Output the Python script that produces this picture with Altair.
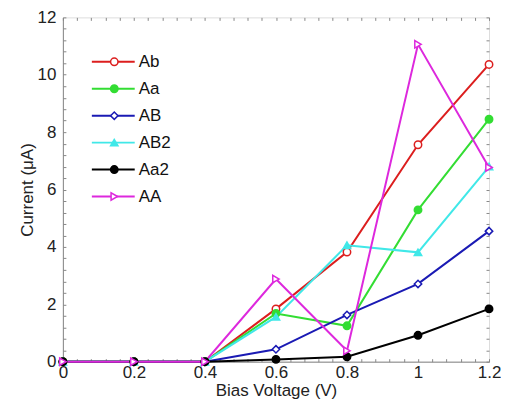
import altair as alt
import pandas as pd

voltage = [0, 0.2, 0.4, 0.6, 0.8, 1.0, 1.2]
series_names = ["Ab", "Aa", "AB", "AB2", "Aa2", "AA"]
ab_vals = [0, 0, 0, 1.84, 3.82, 7.56, 10.36]
aa_vals = [0, 0, 0, 1.68, 1.25, 5.29, 8.45]
AB_vals = [0, 0, 0, 0.43, 1.63, 2.71, 4.55]
ab2_vals = [0, 0, 0, 1.56, 4.06, 3.81, 6.80]
aa2_vals = [0, 0, 0, 0.08, 0.17, 0.92, 1.84]
AA_vals = [0, 0, 0, 2.88, 0.38, 11.06, 6.77]

x_major = [0, 0.2, 0.4, 0.6, 0.8, 1.0, 1.2]
y_major = [0, 2, 4, 6, 8, 10, 12]
x_minor = [round(i * 0.04, 2) for i in range(31)]
y_minor = [round(i * 0.4, 1) for i in range(31)]

colors = ["#dc1e1e", "#33dd33", "#1a1ab4", "#40e8e8", "#000000", "#dd28dd"]
shapes = ["circle", "circle", "diamond", "triangle-up", "circle", "triangle-right"]
fills = ["#ffffff", "#33dd33", "#ffffff", "#40e8e8", "#000000", "#ffffff"]

all_vals = [ab_vals, aa_vals, AB_vals, ab2_vals, aa2_vals, AA_vals]
marker_keys = [n + " m" for n in series_names]
rows = []
for name, key, vals in zip(series_names, marker_keys, all_vals):
    for v, c in zip(voltage, vals):
        rows.append({"V": v, "I": c, "series": name, "series2": key})
df = pd.DataFrame(rows)

FONT = "Liberation Sans"
W, H = 427, 345
GRAY = "#888888"

x_main = alt.Axis(values=x_major, format="~g", grid=False, ticks=False,
                  labelFlush=False, labelFontSize=17, titleFontSize=17,
                  titleFontWeight="normal", labelPadding=3, titlePadding=2,
                  domainColor=GRAY, labelColor="#222222", titleColor="#222222",
                  title="Bias Voltage (V)")
y_main = alt.Axis(values=y_major, grid=False, ticks=False,
                  labelFontSize=17, titleFontSize=17,
                  titleFontWeight="normal", labelPadding=7, titlePadding=1,
                  domainColor=GRAY, labelColor="#222222", titleColor="#222222",
                  title="Current (μA)")

inward = dict(labels=False, domain=False, grid=False, ticks=True, tickSize=3,
              tickColor=GRAY, tickWidth=1, title="")
x_in_bottom = alt.Axis(orient="top", offset=-H, values=x_minor, **inward)
x_in_top = alt.Axis(orient="bottom", offset=-H, values=x_minor, **inward)
y_in_left = alt.Axis(orient="right", offset=-W, values=y_minor, **inward)
y_in_right = alt.Axis(orient="left", offset=-W, values=y_minor, **inward)

x_scale = alt.Scale(domain=[0, 1.2], nice=False)
y_scale = alt.Scale(domain=[0, 12], nice=False)

line_legend = alt.Legend(title=None, orient="none", legendX=42, legendY=36,
                         symbolType="M-3,0H3", symbolSize=205,
                         symbolStrokeWidth=2, labelOffset=17, padding=0,
                         rowPadding=9, labelFontSize=17, labelFont=FONT,
                         labelColor="#111111")
marker_legend = alt.Legend(title=None, orient="none", legendX=43, legendY=36,
                           symbolSize=55, symbolStrokeWidth=1.5,
                           labelOffset=5, padding=0, rowPadding=9,
                           labelFontSize=17, labelFont=FONT,
                           labelExpr="' '")

lines = alt.Chart(df).mark_line(strokeWidth=2).encode(
    x=alt.X("V:Q", scale=x_scale, axis=x_main),
    y=alt.Y("I:Q", scale=y_scale, axis=y_main),
    color=alt.Color("series:N", scale=alt.Scale(domain=series_names, range=colors),
                    legend=line_legend),
)

points = alt.Chart(df).mark_point(filled=True, size=55, strokeWidth=1.5, opacity=1).encode(
    x=alt.X("V:Q", axis=x_in_bottom),
    y=alt.Y("I:Q", axis=y_in_left),
    stroke=alt.Stroke("series2:N", scale=alt.Scale(domain=marker_keys, range=colors),
                      legend=marker_legend),
    fill=alt.Fill("series2:N", scale=alt.Scale(domain=marker_keys, range=fills),
                  legend=marker_legend),
    shape=alt.Shape("series2:N", scale=alt.Scale(domain=marker_keys, range=shapes),
                    legend=marker_legend),
)

ticks_layer = alt.Chart(df).mark_point(opacity=0).encode(
    x=alt.X("V:Q", axis=x_in_top),
    y=alt.Y("I:Q", axis=y_in_right),
)

chart = alt.layer(lines, points, ticks_layer).resolve_axis(
    x="independent", y="independent"
).properties(
    width=W, height=H,
    padding={"left": 10, "top": 0, "right": 0, "bottom": 0},
).configure_view(stroke=GRAY).configure(font=FONT)

chart.save("out.html", embed_options={"renderer": "svg", "actions": False})
